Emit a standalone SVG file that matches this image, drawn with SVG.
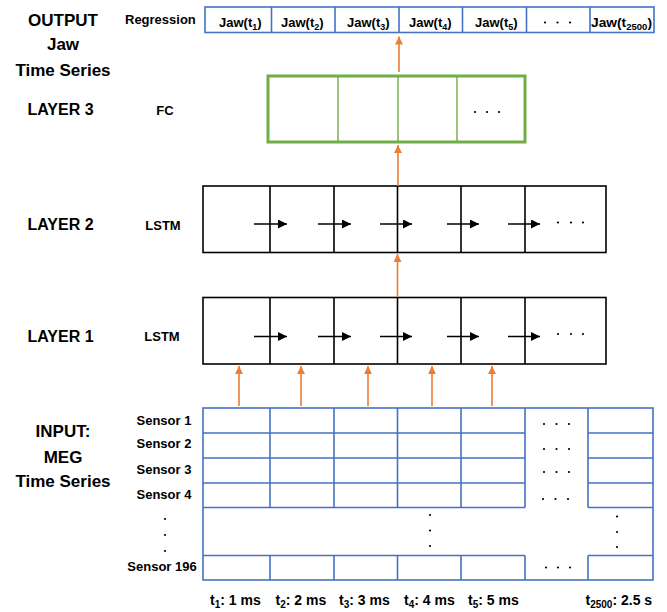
<svg xmlns="http://www.w3.org/2000/svg" width="667" height="612" viewBox="0 0 667 612">
<style>
text{font-family:"Liberation Sans",Arial,sans-serif;font-weight:bold;fill:#000}
.big{font-size:17px}
.lay{font-size:16px}
.sm{font-size:13px}
.tl{font-size:14px}
.blue{fill:none;stroke:#4472C4;stroke-width:1.6}
.blk{fill:none;stroke:#000;stroke-width:1.6}
.grn{fill:none;stroke:#70AD47;stroke-width:3}
.grnl{stroke:#70AD47;stroke-width:1.4}
.or{stroke:#ED7D31;stroke-width:1.6;fill:none;marker-end:url(#ao)}
.ba{stroke:#000;stroke-width:1.5;fill:none;marker-end:url(#ab)}
.dot{fill:#000}
</style>
<defs>
<marker id="ao" markerUnits="userSpaceOnUse" markerWidth="9" markerHeight="9" refX="8" refY="4" orient="auto"><path d="M0,0 L8,4 L0,8 z" fill="#ED7D31"/></marker>
<marker id="ab" markerUnits="userSpaceOnUse" markerWidth="10" markerHeight="10" refX="9" refY="4.5" orient="auto"><path d="M0,0 L9,4.5 L0,9 z" fill="#000"/></marker>
</defs>

<g id="labels">
<text class="big" x="63" y="26" text-anchor="middle">OUTPUT</text>
<text class="big" x="63" y="50" text-anchor="middle">Jaw</text>
<text class="big" x="63" y="76" text-anchor="middle">Time Series</text>
<text class="sm" x="125" y="24">Regression</text>
<text class="lay" x="60.5" y="115" text-anchor="middle">LAYER 3</text>
<text class="sm" x="165" y="115" text-anchor="middle" font-size="12">FC</text>
<text class="lay" x="60.5" y="230" text-anchor="middle">LAYER 2</text>
<text class="sm" x="163" y="230" text-anchor="middle">LSTM</text>
<text class="lay" x="60.5" y="342" text-anchor="middle">LAYER 1</text>
<text class="sm" x="162" y="341" text-anchor="middle">LSTM</text>
<text class="big" x="63" y="437" text-anchor="middle">INPUT:</text>
<text class="big" x="63" y="463" text-anchor="middle">MEG</text>
<text class="big" x="63" y="487" text-anchor="middle">Time Series</text>
</g>

<g id="output">
<rect class="blue" x="205" y="7" width="449" height="25.5"/>
<path class="blue" d="M271.5,7V32.5M335,7V32.5M399,7V32.5M462.5,7V32.5M526.5,7V32.5M590,7V32.5"/>
<text class="sm" x="219" y="27">Jaw(t<tspan font-size="9" dy="3">1</tspan><tspan dy="-3">)</tspan></text>
<text class="sm" x="281" y="27">Jaw(t<tspan font-size="9" dy="3">2</tspan><tspan dy="-3">)</tspan></text>
<text class="sm" x="347" y="27">Jaw(t<tspan font-size="9" dy="3">3</tspan><tspan dy="-3">)</tspan></text>
<text class="sm" x="409" y="27">Jaw(t<tspan font-size="9" dy="3">4</tspan><tspan dy="-3">)</tspan></text>
<text class="sm" x="475" y="27">Jaw(t<tspan font-size="9" dy="3">5</tspan><tspan dy="-3">)</tspan></text>
<text class="sm" x="591" y="27" textLength="61" lengthAdjust="spacingAndGlyphs">Jaw(t<tspan font-size="9" dy="3">2500</tspan><tspan dy="-3">)</tspan></text>
<circle class="dot" cx="545" cy="22.5" r="1.1"/><circle class="dot" cx="557.5" cy="22.5" r="1.1"/><circle class="dot" cx="570" cy="22.5" r="1.1"/>
</g>

<g id="layer3">
<rect class="grn" x="268" y="76" width="257" height="66"/>
<path class="grnl" d="M338,76V142M398,76V142M457,76V142"/>
<circle class="dot" cx="475" cy="112" r="1.1"/><circle class="dot" cx="487" cy="112" r="1.1"/><circle class="dot" cx="499" cy="112" r="1.1"/>
</g>

<g id="layer2">
<rect class="blk" x="203" y="186" width="403" height="66.5"/>
<path class="blk" d="M270,186V252.5M334,186V252.5M397.5,186V252.5M461,186V252.5M525,186V252.5"/>
<circle class="dot" cx="558" cy="222.5" r="1.1"/><circle class="dot" cx="571" cy="222.5" r="1.1"/><circle class="dot" cx="583" cy="222.5" r="1.1"/>
</g>

<g id="layer1">
<rect class="blk" x="203" y="297.5" width="403" height="66.5"/>
<path class="blk" d="M270,297.5V364M334,297.5V364M397.5,297.5V364M461,297.5V364M525,297.5V364"/>
<circle class="dot" cx="558" cy="334" r="1.1"/><circle class="dot" cx="571" cy="334" r="1.1"/><circle class="dot" cx="583" cy="334" r="1.1"/>
</g>

<g id="input">
<rect class="blue" x="203" y="408" width="450" height="172"/>
<path class="blue" d="M203,433H525M588,433H653M203,458H525M588,458H653M203,483H525M588,483H653M203,507.5H525M588,507.5H653M203,555.5H525M588,555.5H653"/>
<path class="blue" d="M270,408V507.5M334,408V507.5M397.5,408V507.5M461,408V507.5M525,408V507.5M588,408V507.5M270,555.5V580M334,555.5V580M397.5,555.5V580M461,555.5V580M525,555.5V580M588,555.5V580"/>
<text class="sm" x="164" y="425" text-anchor="middle">Sensor 1</text>
<text class="sm" x="164" y="448" text-anchor="middle">Sensor 2</text>
<text class="sm" x="164" y="474" text-anchor="middle">Sensor 3</text>
<text class="sm" x="164" y="499" text-anchor="middle">Sensor 4</text>
<text class="sm" x="162" y="571" text-anchor="middle">Sensor 196</text>
<circle class="dot" cx="165" cy="519" r="1.1"/><circle class="dot" cx="165" cy="535" r="1.1"/><circle class="dot" cx="165" cy="551" r="1.1"/>
<circle class="dot" cx="430" cy="515" r="1.1"/><circle class="dot" cx="430" cy="530.5" r="1.1"/><circle class="dot" cx="430" cy="546" r="1.1"/>
<circle class="dot" cx="617" cy="516.5" r="1.1"/><circle class="dot" cx="617" cy="532" r="1.1"/><circle class="dot" cx="617" cy="547" r="1.1"/>
<g>
<circle class="dot" cx="544" cy="424" r="1.1"/><circle class="dot" cx="556.5" cy="424" r="1.1"/><circle class="dot" cx="569" cy="424" r="1.1"/>
<circle class="dot" cx="544" cy="449" r="1.1"/><circle class="dot" cx="556.5" cy="449" r="1.1"/><circle class="dot" cx="569" cy="449" r="1.1"/>
<circle class="dot" cx="544" cy="472" r="1.1"/><circle class="dot" cx="556.5" cy="472" r="1.1"/><circle class="dot" cx="569" cy="472" r="1.1"/>
<circle class="dot" cx="543" cy="499" r="1.1"/><circle class="dot" cx="555.5" cy="499" r="1.1"/><circle class="dot" cx="568" cy="499" r="1.1"/>
<circle class="dot" cx="546" cy="567.5" r="1.1"/><circle class="dot" cx="558" cy="567.5" r="1.1"/><circle class="dot" cx="570" cy="567.5" r="1.1"/>
</g>
<text class="tl" x="210" y="605">t<tspan font-size="10" dy="3">1</tspan><tspan dy="-3">: 1 ms</tspan></text>
<text class="tl" x="275.5" y="605">t<tspan font-size="10" dy="3">2</tspan><tspan dy="-3">: 2 ms</tspan></text>
<text class="tl" x="339" y="605">t<tspan font-size="10" dy="3">3</tspan><tspan dy="-3">: 3 ms</tspan></text>
<text class="tl" x="404" y="605">t<tspan font-size="10" dy="3">4</tspan><tspan dy="-3">: 4 ms</tspan></text>
<text class="tl" x="468" y="605">t<tspan font-size="10" dy="3">5</tspan><tspan dy="-3">: 5 ms</tspan></text>
<text class="tl" x="585.5" y="605">t<tspan font-size="10" dy="3">2500</tspan><tspan dy="-3">: 2.5 s</tspan></text>
</g>

<g id="connectors">
<line class="or" x1="399" y1="72" x2="399" y2="36.5"/>
<line class="or" x1="398" y1="186" x2="398" y2="145"/>
<line class="or" x1="397.5" y1="297" x2="397.5" y2="254"/>
<line class="or" x1="239" y1="406" x2="239" y2="366"/>
<line class="or" x1="301" y1="406" x2="301" y2="366"/>
<line class="or" x1="368" y1="406" x2="368" y2="366"/>
<line class="or" x1="432" y1="406" x2="432" y2="366"/>
<line class="or" x1="492" y1="406" x2="492" y2="366"/>
<line class="ba" x1="254" y1="224" x2="287" y2="224"/>
<line class="ba" x1="318" y1="224" x2="351" y2="224"/>
<line class="ba" x1="380" y1="224" x2="412" y2="224"/>
<line class="ba" x1="447" y1="224" x2="479" y2="224"/>
<line class="ba" x1="508" y1="224" x2="540" y2="224"/>
<line class="ba" x1="254" y1="336.5" x2="287" y2="336.5"/>
<line class="ba" x1="318" y1="336.5" x2="351" y2="336.5"/>
<line class="ba" x1="380" y1="336.5" x2="412" y2="336.5"/>
<line class="ba" x1="447" y1="336.5" x2="479" y2="336.5"/>
<line class="ba" x1="508" y1="336.5" x2="540" y2="336.5"/>
</g>
</svg>
